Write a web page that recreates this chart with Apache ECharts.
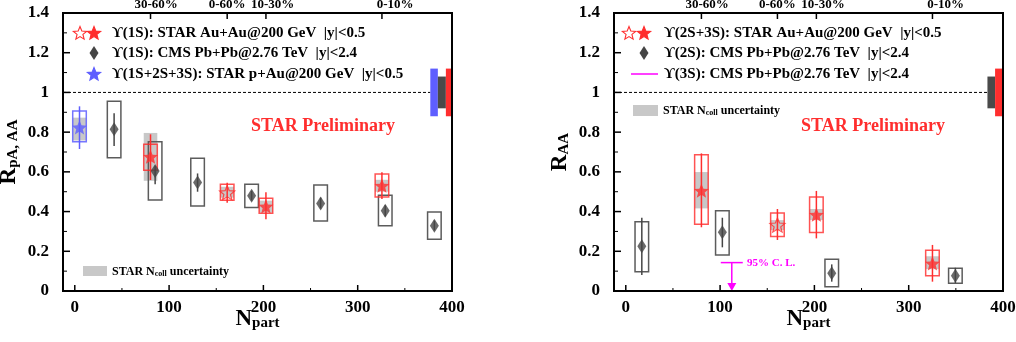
<!DOCTYPE html>
<html>
<head>
<meta charset="utf-8">
<script src="https://cdn.jsdelivr.net/npm/echarts@6/dist/echarts.min.js"></script>
<style>
html, body { margin: 0; padding: 0; background: #fff; }
#chart { width: 1016px; height: 342px; }
</style>
</head>
<body>
<div id="chart"></div>
<script>
// ---------- values ----------
const centLabels = ['30-60%', '0-60%', '10-30%', '0-10%']
const xTicks = [0, 100, 200, 300, 400]
const xMinorTicks = [50, 150, 250, 350]
const yMajorTicks = [0, 0.2, 0.4, 0.6, 0.8, 1.0, 1.2, 1.4]
const yMinorTicks = [0.1, 0.3, 0.5, 0.7, 0.9, 1.1, 1.3]

// left panel: Y(1S) STAR Au+Au
const starAuAu1S_x = [80.3, 161.6, 202.7, 325.7]
const starAuAu1S_y = [0.676, 0.495, 0.426, 0.530]
const starAuAu1S_errLo = [0.559, 0.445, 0.361, 0.463]
const starAuAu1S_errHi = [0.789, 0.545, 0.497, 0.598]
const starAuAu1S_sysLo = [0.608, 0.457, 0.391, 0.473]
const starAuAu1S_sysHi = [0.739, 0.537, 0.467, 0.589]
const starAuAu1S_ncollLo = [0.555, 0.470, 0.395, 0.500]
const starAuAu1S_ncollHi = [0.796, 0.525, 0.455, 0.560]
const starAuAu1S_open = [false, true, false, false]

// left panel: Y(1S+2S+3S) STAR p+Au
const starPAu_x = [5.0]
const starPAu_y = [0.824]
const starPAu_errLo = [0.715]
const starPAu_errHi = [0.930]
const starPAu_sysLo = [0.752]
const starPAu_sysHi = [0.906]
const starPAu_ncollLo = [0.758]
const starPAu_ncollHi = [0.873]

// left panel: Y(1S) CMS Pb+Pb
const cms1S_x = [41.7, 85.2, 130.2, 187.5, 260.7, 329.2, 381.3]
const cms1S_y = [0.814, 0.604, 0.547, 0.480, 0.441, 0.404, 0.329]
const cms1S_errLo = [0.730, 0.537, 0.500, 0.455, 0.415, 0.375, 0.305]
const cms1S_errHi = [0.895, 0.631, 0.592, 0.505, 0.470, 0.432, 0.355]
const cms1S_sysLo = [0.671, 0.458, 0.428, 0.420, 0.352, 0.329, 0.260]
const cms1S_sysHi = [0.955, 0.752, 0.668, 0.537, 0.534, 0.482, 0.398]

// global uncertainties near R=1 (p+Au, CMS, Au+Au)
const globalL_lo = [0.88, 0.92, 0.88]
const globalL_hi = [1.12, 1.08, 1.12]

// right panel: Y(2S+3S) STAR Au+Au
const starAuAu23S_x = [80.2, 160.8, 202.1, 325.2]
const starAuAu23S_y = [0.505, 0.332, 0.384, 0.139]
const starAuAu23S_errLo = [0.321, 0.257, 0.265, 0.047]
const starAuAu23S_errHi = [0.693, 0.413, 0.504, 0.232]
const starAuAu23S_sysLo = [0.336, 0.275, 0.294, 0.077]
const starAuAu23S_sysHi = [0.686, 0.393, 0.473, 0.205]
const starAuAu23S_ncollLo = [0.416, 0.307, 0.357, 0.110]
const starAuAu23S_ncollHi = [0.599, 0.357, 0.413, 0.175]
const starAuAu23S_open = [false, true, false, false]

// right panel: Y(2S) CMS Pb+Pb
const cms2S_x = [17.0, 102.4, 218.4, 349.5]
const cms2S_y = [0.225, 0.296, 0.089, 0.077]
const cms2S_errLo = [0.080, 0.220, 0.047, 0.040]
const cms2S_errHi = [0.369, 0.369, 0.134, 0.117]
const cms2S_sysLo = [0.097, 0.181, 0.022, 0.039]
const cms2S_sysHi = [0.349, 0.404, 0.160, 0.114]

// right panel: Y(3S) CMS 95% C.L. upper limit
const cms3S_x = [112.4]
const cms3S_ul = [0.143]

// global uncertainties (CMS, Au+Au)
const globalR_lo = [0.92, 0.88]
const globalR_hi = [1.08, 1.12]

// ---------- styles ----------
const FONT = 'Liberation Serif'
const RED = '#ff2e2e'
const RED_BOX = 'rgba(255,40,40,0.8)'
const BLUE = '#5e5eff'
const DARK = '#454545'
const CMS_BOX = '#5c5c5c'
const GRAY = '#c8c8c8'
const MAGENTA = '#ff00ff'
const HALF_W = 7.2 // box half width in Npart units
const X_MIN = -12.5
const X_MAX = 400
const Y_MAX = 1.4
const STAR_PTS = [[50, 0], [62.93, 32.2], [97.55, 34.55], [70.92, 56.8], [79.39, 90.45], [50, 72], [20.61, 90.45], [29.08, 56.8], [2.45, 34.55], [37.07, 32.2]]
const STAR_D = 'M' + STAR_PTS.map(p => p.join(' ')).join(' L') + ' Z'
const topLabelShift = [6, 0, 7, 14]

const zip = (...cols) => cols[0].map((_, i) => cols.map(c => c[i]))

function boxSeries(xi, yi, data, style, z) {
    return {
        type: 'custom', xAxisIndex: xi, yAxisIndex: yi, z: z, silent: true,
        data: data,
        renderItem(params, api) {
            const x = api.value(0)
            const a = api.coord([x - HALF_W, api.value(2)])
            const b = api.coord([x + HALF_W, api.value(1)])
            return { type: 'rect', shape: { x: a[0], y: a[1], width: b[0] - a[0], height: b[1] - a[1] }, style: Object.assign({}, style) }
        }
    }
}

function errSeries(xi, yi, data, color, z) {
    return {
        type: 'custom', xAxisIndex: xi, yAxisIndex: yi, z: z, silent: true,
        data: data,
        renderItem(params, api) {
            const a = api.coord([api.value(0), api.value(2)])
            const b = api.coord([api.value(0), api.value(1)])
            return { type: 'line', shape: { x1: a[0], y1: a[1], x2: b[0], y2: b[1] }, style: { stroke: color, lineWidth: 1.5 } }
        }
    }
}

// global uncertainty bars: slot edges in Npart units, colors per slot
function globalSeries(xi, yi, lo, hi, slots, colors) {
    return {
        type: 'custom', xAxisIndex: xi, yAxisIndex: yi, z: 3, silent: true,
        data: zip(lo, hi),
        renderItem(params, api) {
            const s = slots[params.dataIndex]
            const a = api.coord([s[0], api.value(1)])
            const b = api.coord([s[1], api.value(0)])
            return { type: 'rect', shape: { x: a[0], y: a[1], width: b[0] - a[0], height: b[1] - a[1] }, style: { fill: colors[params.dataIndex] } }
        }
    }
}

function markerSeries(xi, yi, data, symbol, size, itemStyle) {
    return {
        type: 'scatter', xAxisIndex: xi, yAxisIndex: yi, z: 6, silent: true,
        symbol: symbol, symbolSize: size, itemStyle: itemStyle, data: data
    }
}

function pick(xs, ys, flags, want) {
    return xs.map((x, i) => [x, ys[i]]).filter((_, i) => flags[i] === want)
}

function dashedLine(xi, yi, xEnd) {
    return {
        type: 'custom', xAxisIndex: xi, yAxisIndex: yi, z: 2, silent: true,
        data: [[X_MIN, xEnd, 1]],
        renderItem(params, api) {
            const a = api.coord([api.value(0), api.value(2)])
            const b = api.coord([api.value(1), api.value(2)])
            return { type: 'line', shape: { x1: a[0], y1: a[1], x2: b[0], y2: b[1] }, style: { stroke: '#000', lineWidth: 1, lineDash: [3, 2] } }
        }
    }
}

function xAxes(gridIndex, centX) {
    const base = () => ({ gridIndex: gridIndex, type: 'value', min: X_MIN, max: X_MAX, splitLine: { show: false }, axisLine: { show: false, onZero: false }, axisTick: { show: false } })
    return [
        Object.assign(base(), {
            position: 'bottom',
            axisLabel: { customValues: xTicks, margin: 8, fontFamily: FONT, fontWeight: 'bold', fontSize: 17, color: '#000' },
            name: '{n|N}{s|part}', nameLocation: 'middle', nameGap: 14, nameMoveOverlap: false,
            nameTextStyle: {
                rich: {
                    n: { fontFamily: FONT, fontWeight: 'bold', fontSize: 23, color: '#000', lineHeight: 26, verticalAlign: 'bottom' },
                    s: { fontFamily: FONT, fontWeight: 'bold', fontSize: 15, color: '#000', lineHeight: 15, padding: [11, 0, 0, 0], verticalAlign: 'bottom' }
                }
            }
        }),
        Object.assign(base(), {
            position: 'top',
            axisLabel: {
                customValues: centX.map((x, i) => x + topLabelShift[i]),
                formatter: v => centLabels[centX.findIndex((x, i) => Math.abs(x + topLabelShift[i] - v) < 0.01)],
                margin: 2, fontFamily: FONT, fontWeight: 'bold', fontSize: 13, color: '#000'
            }
        })
    ]
}

function yAxis(gridIndex, name, sub) {
    return {
        gridIndex: gridIndex, type: 'value', min: 0, max: Y_MAX, interval: 0.2, position: 'left',
        splitLine: { show: false }, axisLine: { show: false, onZero: false }, axisTick: { show: false },
        axisLabel: { margin: 14, fontFamily: FONT, fontWeight: 'bold', fontSize: 17, color: '#000' },
        name: '{r|' + name + '}{s|' + sub + '}', nameLocation: 'middle', nameGap: 42, nameRotate: 90,
        nameTextStyle: {
            rich: {
                r: { fontFamily: FONT, fontWeight: 'bold', fontSize: 23, color: '#000', lineHeight: 26, verticalAlign: 'bottom' },
                s: { fontFamily: FONT, fontWeight: 'bold', fontSize: 15, color: '#000', lineHeight: 15, padding: [11, 0, 0, 0], verticalAlign: 'bottom' }
            }
        }
    }
}

// ---------- legend / annotation helpers (pixel space) ----------
function starIcon(cx, cy, fill, stroke) {
    const pts = STAR_PTS.map(p => [cx - 7 + p[0] * 0.14, cy - 6.5 + p[1] * 0.14])
    return { type: 'polygon', z: 20, shape: { points: pts }, style: { fill: fill, stroke: stroke, lineWidth: 1.1 } }
}
function diamondIcon(cx, cy) {
    return { type: 'polygon', z: 20, shape: { points: [[cx, cy - 7], [cx + 4.5, cy], [cx, cy + 7], [cx - 4.5, cy]] }, style: { fill: DARK } }
}
function label(x, y, text, size, color, align) {
    return { type: 'text', z: 20, x: x, y: y, style: { text: text, fontFamily: FONT, fontWeight: 'bold', fontSize: size, fill: color || '#000', align: align || 'left', verticalAlign: 'middle' } }
}
function ncollLabel(x, y) {
    return {
        type: 'text', z: 20, x: x, y: y,
        style: {
            text: '{a|STAR N}{b|coll}{a| uncertainty}', verticalAlign: 'middle',
            rich: {
                a: { fontFamily: FONT, fontWeight: 'bold', fontSize: 12, fill: '#000', lineHeight: 14, verticalAlign: 'bottom' },
                b: { fontFamily: FONT, fontWeight: 'bold', fontSize: 8, fill: '#000', lineHeight: 8, padding: [8, 0, 0, 0], verticalAlign: 'bottom' }
            }
        }
    }
}

const U = '\u03d2'

const legendGraphics = [
    // left legend
    starIcon(80, 33, 'rgba(0,0,0,0)', RED),
    starIcon(94, 33, RED, RED),
    label(112, 33, U + '(1S): STAR Au+Au@200 GeV  |y|<0.5', 15),
    diamondIcon(94, 53),
    label(112, 53, U + '(1S): CMS Pb+Pb@2.76 TeV  |y|<2.4', 15),
    starIcon(94, 74, BLUE, BLUE),
    label(112, 74, U + '(1S+2S+3S): STAR p+Au@200 GeV  |y|<0.5', 15),
    label(323, 126, 'STAR Preliminary', 18, RED, 'center'),
    { type: 'rect', z: 20, shape: { x: 83, y: 266, width: 24, height: 10 }, style: { fill: GRAY } },
    ncollLabel(112, 271),
    // right legend
    starIcon(629, 33, 'rgba(0,0,0,0)', RED),
    starIcon(644, 33, RED, RED),
    label(664, 33, U + '(2S+3S): STAR Au+Au@200 GeV  |y|<0.5', 15),
    diamondIcon(644, 53),
    label(664, 53, U + '(2S): CMS Pb+Pb@2.76 TeV  |y|<2.4', 15),
    { type: 'line', z: 20, shape: { x1: 631, y1: 74, x2: 658, y2: 74 }, style: { stroke: MAGENTA, lineWidth: 1.5 } },
    label(664, 74, U + '(3S): CMS Pb+Pb@2.76 TeV  |y|<2.4', 15),
    label(873, 126, 'STAR Preliminary', 18, RED, 'center'),
    { type: 'rect', z: 20, shape: { x: 633, y: 105, width: 25, height: 11 }, style: { fill: GRAY } },
    ncollLabel(663, 110),
    label(747, 263, '95% C. L.', 11, MAGENTA)
]

const chart = echarts.init(document.getElementById('chart'))
chart.setOption({
    animation: false,
    grid: [
        { left: 63, top: 13, width: 389, height: 278, containLabel: false, outerBoundsMode: 'none' },
        { left: 614, top: 13, width: 389, height: 278, containLabel: false, outerBoundsMode: 'none' }
    ],
    xAxis: [].concat(xAxes(0, starAuAu1S_x), xAxes(1, starAuAu23S_x)),
    yAxis: [yAxis(0, 'R', 'pA, AA'), yAxis(1, 'R', 'AA')],
    series: [
        // ----- left panel -----
        dashedLine(0, 0, 377),
        globalSeries(0, 0, globalL_lo, globalL_hi, [[377, 385], [385, 393.5], [393.5, 400]], [BLUE, '#4a4a4a', RED]),
        boxSeries(0, 0, zip(starAuAu1S_x, starAuAu1S_ncollLo, starAuAu1S_ncollHi), { fill: GRAY }, 2),
        boxSeries(0, 0, zip(starPAu_x, starPAu_ncollLo, starPAu_ncollHi), { fill: GRAY }, 2),
        boxSeries(0, 0, zip(cms1S_x, cms1S_sysLo, cms1S_sysHi), { fill: 'none', stroke: CMS_BOX, lineWidth: 1.5 }, 4),
        boxSeries(0, 0, zip(starAuAu1S_x, starAuAu1S_sysLo, starAuAu1S_sysHi), { fill: 'none', stroke: RED_BOX, lineWidth: 1.5 }, 4),
        boxSeries(0, 0, zip(starPAu_x, starPAu_sysLo, starPAu_sysHi), { fill: 'none', stroke: 'rgba(94,94,255,0.85)', lineWidth: 1.5 }, 4),
        errSeries(0, 0, zip(cms1S_x, cms1S_errLo, cms1S_errHi), DARK, 5),
        errSeries(0, 0, zip(starAuAu1S_x, starAuAu1S_errLo, starAuAu1S_errHi), RED, 5),
        errSeries(0, 0, zip(starPAu_x, starPAu_errLo, starPAu_errHi), BLUE, 5),
        markerSeries(0, 0, zip(cms1S_x, cms1S_y), 'diamond', [9, 14], { color: DARK }),
        markerSeries(0, 0, pick(starAuAu1S_x, starAuAu1S_y, starAuAu1S_open, false), 'path://' + STAR_D, [15, 14], { color: RED }),
        markerSeries(0, 0, pick(starAuAu1S_x, starAuAu1S_y, starAuAu1S_open, true), 'path://' + STAR_D, [15, 14], { color: 'rgba(0,0,0,0)', borderColor: RED, borderWidth: 1.2 }),
        markerSeries(0, 0, zip(starPAu_x, starPAu_y), 'path://' + STAR_D, [15, 14], { color: BLUE }),

        // ----- right panel -----
        dashedLine(2, 1, 383.5),
        globalSeries(2, 1, globalR_lo, globalR_hi, [[383.5, 391.6], [391.6, 400]], ['#4a4a4a', RED]),
        boxSeries(2, 1, zip(starAuAu23S_x, starAuAu23S_ncollLo, starAuAu23S_ncollHi), { fill: GRAY }, 2),
        boxSeries(2, 1, zip(cms2S_x, cms2S_sysLo, cms2S_sysHi), { fill: 'none', stroke: CMS_BOX, lineWidth: 1.5 }, 4),
        boxSeries(2, 1, zip(starAuAu23S_x, starAuAu23S_sysLo, starAuAu23S_sysHi), { fill: 'none', stroke: RED_BOX, lineWidth: 1.5 }, 4),
        errSeries(2, 1, zip(cms2S_x, cms2S_errLo, cms2S_errHi), DARK, 5),
        errSeries(2, 1, zip(starAuAu23S_x, starAuAu23S_errLo, starAuAu23S_errHi), RED, 5),
        markerSeries(2, 1, zip(cms2S_x, cms2S_y), 'diamond', [9, 14], { color: DARK }),
        markerSeries(2, 1, pick(starAuAu23S_x, starAuAu23S_y, starAuAu23S_open, false), 'path://' + STAR_D, [15, 14], { color: RED }),
        markerSeries(2, 1, pick(starAuAu23S_x, starAuAu23S_y, starAuAu23S_open, true), 'path://' + STAR_D, [15, 14], { color: 'rgba(0,0,0,0)', borderColor: RED, borderWidth: 1.2 }),
        {
            // 95% C.L. upper limit with arrow
            type: 'custom', xAxisIndex: 2, yAxisIndex: 1, z: 6, silent: true,
            data: zip(cms3S_x, cms3S_ul),
            renderItem(params, api) {
                const top = api.coord([api.value(0), api.value(1)])
                const tip = api.coord([api.value(0), 0])
                return {
                    type: 'group', children: [
                        { type: 'line', shape: { x1: top[0] - 11, y1: top[1], x2: top[0] + 11, y2: top[1] }, style: { stroke: MAGENTA, lineWidth: 1.5 } },
                        { type: 'line', shape: { x1: top[0], y1: top[1], x2: top[0], y2: tip[1] - 6 }, style: { stroke: MAGENTA, lineWidth: 1.5 } },
                        { type: 'polygon', shape: { points: [[tip[0] - 4.5, tip[1] - 8], [tip[0] + 4.5, tip[1] - 8], [tip[0], tip[1]]] }, style: { fill: MAGENTA } }
                    ]
                }
            }
        }
    ]
})

// frame box and inward ticks, positioned through each grid's scales
function frameGraphics(gridIndex, topTicks) {
    const px = (x, y) => chart.convertToPixel({ gridIndex: gridIndex }, [x, y])
    const tl = px(X_MIN, Y_MAX)
    const br = px(X_MAX, 0)
    const els = [{ type: 'rect', z: 15, shape: { x: tl[0], y: tl[1], width: br[0] - tl[0], height: br[1] - tl[1] }, style: { fill: 'none', stroke: '#000', lineWidth: 2 } }]
    const tick = (p, dx, dy, w) => els.push({ type: 'line', z: 15, shape: { x1: p[0], y1: p[1], x2: p[0] + dx, y2: p[1] + dy }, style: { stroke: '#000', lineWidth: w } })
    yMajorTicks.forEach(v => tick(px(X_MIN, v), 7, 0, 1.5))
    yMinorTicks.forEach(v => tick(px(X_MIN, v), 4, 0, 1))
    xTicks.forEach(v => tick(px(v, 0), 0, -6, 1.5))
    xMinorTicks.forEach(v => tick(px(v, 0), 0, -3, 1))
    topTicks.forEach(v => tick(px(v, Y_MAX), 0, 6, 1.5))
    return els
}

chart.setOption({
    graphic: legendGraphics.concat(frameGraphics(0, starAuAu1S_x), frameGraphics(1, starAuAu23S_x))
})
</script>
</body>
</html>
